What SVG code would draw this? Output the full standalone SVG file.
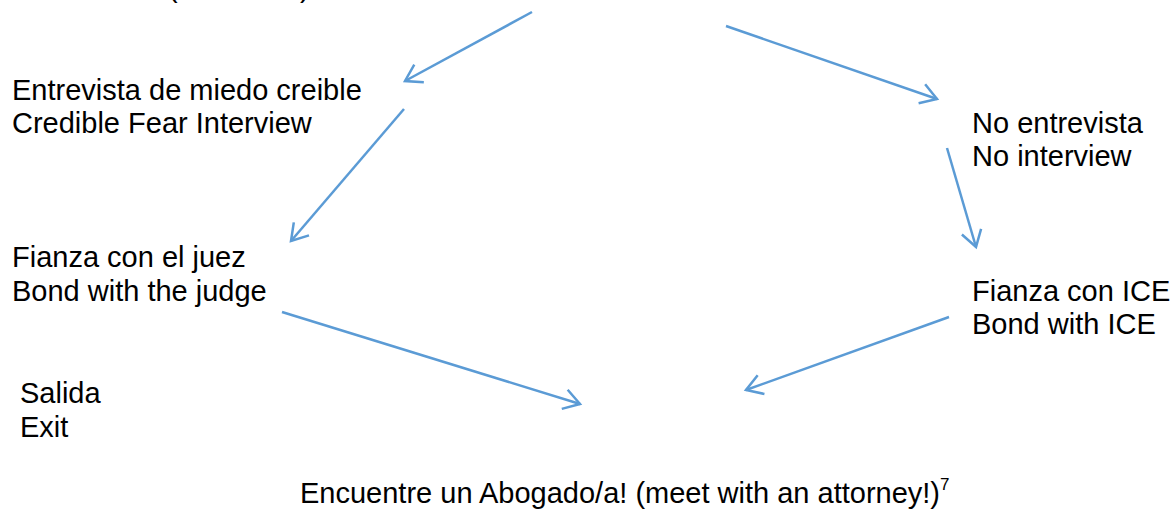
<svg xmlns="http://www.w3.org/2000/svg" width="1175" height="510" viewBox="0 0 1175 510">
<style>
text{font-family:"Liberation Sans",Arial,sans-serif;font-size:29px;fill:#000}
.c{stroke:#5B9BD5;stroke-width:2.5;fill:none}
</style>
<defs>
<marker id="ah" viewBox="-20 -14 24 28" refX="0" refY="0" markerWidth="24" markerHeight="28" markerUnits="userSpaceOnUse" orient="auto">
<path d="M-16,-10 L0,0 L-16,10" fill="none" stroke="#5B9BD5" stroke-width="2.5"/>
</marker>
</defs>
<rect width="1175" height="510" fill="#fff"/>
<g id="top-cut">
<text x="168" y="-3">(</text>
<text x="300" y="-3">)</text>
</g>
<g id="n-entrevista">
<text x="12" y="100">Entrevista de miedo creible</text>
<text x="12" y="133">Credible Fear Interview</text>
</g>
<g id="n-no-entrevista">
<text x="972" y="133">No entrevista</text>
<text x="972" y="166">No interview</text>
</g>
<g id="n-fianza-juez">
<text x="12" y="267">Fianza con el juez</text>
<text x="12" y="301">Bond with the judge</text>
</g>
<g id="n-fianza-ice">
<text x="972" y="301">Fianza con ICE</text>
<text x="972" y="334">Bond with ICE</text>
</g>
<g id="n-salida">
<text x="20" y="403">Salida</text>
<text x="20" y="437">Exit</text>
</g>
<g id="n-abogado">
<text x="300" y="503">Encuentre un Abogado/a! (meet with an attorney!)<tspan font-size="17" dy="-13">7</tspan></text>
</g>
<g id="connectors" class="c">
<line class="c" x1="532" y1="12" x2="405" y2="81" marker-end="url(#ah)"/>
<line class="c" x1="726" y1="26" x2="937" y2="99" marker-end="url(#ah)"/>
<line class="c" x1="404" y1="109" x2="291" y2="241" marker-end="url(#ah)"/>
<line class="c" x1="947" y1="148" x2="976" y2="247" marker-end="url(#ah)"/>
<line class="c" x1="282" y1="312" x2="580" y2="404" marker-end="url(#ah)"/>
<line class="c" x1="949" y1="317" x2="746" y2="390" marker-end="url(#ah)"/>
</g>
</svg>
